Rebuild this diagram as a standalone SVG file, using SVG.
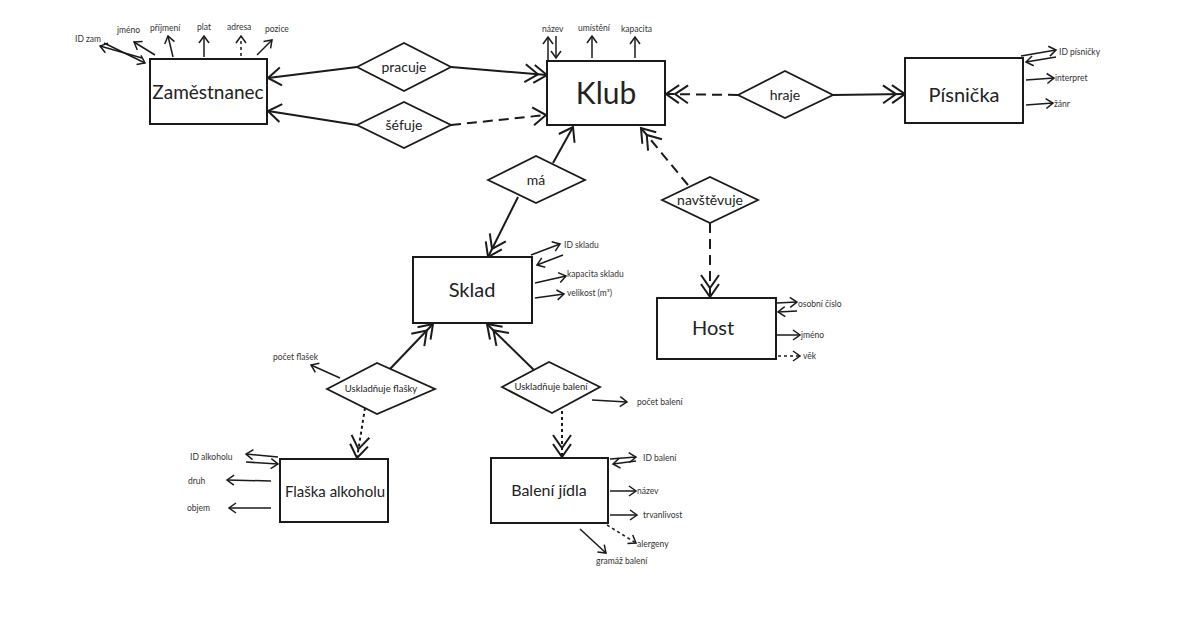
<svg xmlns="http://www.w3.org/2000/svg" width="1200" height="642" viewBox="0 0 1200 642">
  <defs>
    <style>
      .ent { fill: #fff; stroke: #1a1a1a; stroke-width: 2; }
      .rel { fill: #fff; stroke: #1a1a1a; stroke-width: 1.8; }
      .ln { fill: none; stroke: #1a1a1a; stroke-width: 2; }
      .dash { stroke-dasharray: 10 6; }
      .dot { stroke-dasharray: 3 3; }
      .at { fill: none; stroke: #1a1a1a; stroke-width: 1.5; }
      .et { font-family: Lato, "Liberation Sans", sans-serif; fill: #222; text-anchor: middle; }
      .rt { font-family: Lato, "Liberation Sans", sans-serif; fill: #222; text-anchor: middle; font-size: 14px; }
      .rs { font-size: 9.5px; }
      .lbl { font-family: Lato, "Liberation Sans", sans-serif; fill: #333; font-size: 8.5px; }
    </style>
    <marker id="one" markerUnits="userSpaceOnUse" viewBox="-20 -12 24 24" refX="0" refY="0" markerWidth="24" markerHeight="24" orient="auto" overflow="visible">
      <path d="M -13 -9 L 0 0 L -13 9" fill="none" stroke="#1a1a1a" stroke-width="2"/>
    </marker>
    <marker id="many" markerUnits="userSpaceOnUse" viewBox="-30 -12 34 24" refX="0" refY="0" markerWidth="34" markerHeight="24" orient="auto" overflow="visible">
      <path d="M -13 -9 L 0 0 L -13 9 M -22 -9 L -9 0 L -22 9" fill="none" stroke="#1a1a1a" stroke-width="2"/>
    </marker>
    <marker id="sm" markerUnits="userSpaceOnUse" viewBox="-10 -8 12 16" refX="0" refY="0" markerWidth="12" markerHeight="16" orient="auto" overflow="visible">
      <path d="M -7 -5 L 0 0 L -7 5" fill="none" stroke="#1a1a1a" stroke-width="1.5"/>
    </marker>
  </defs>

  <rect width="1200" height="642" fill="#fff"/>

  <!-- relationship connectors -->
  <g id="connectors">
    <line class="ln" x1="357" y1="67" x2="268" y2="78" marker-end="url(#one)"/>
    <line class="ln" x1="451" y1="67" x2="547" y2="75" marker-end="url(#many)"/>
    <line class="ln" x1="357" y1="125" x2="268" y2="111" marker-end="url(#one)"/>
    <line class="ln dash" x1="451" y1="125" x2="546" y2="115" marker-end="url(#one)"/>
    <line class="ln dash" x1="738" y1="95" x2="666" y2="94" marker-end="url(#many)"/>
    <line class="ln" x1="833" y1="95" x2="905" y2="94" marker-end="url(#many)"/>
    <line class="ln" x1="553" y1="163" x2="573" y2="127" marker-end="url(#one)"/>
    <line class="ln" x1="518" y1="197" x2="488" y2="257" marker-end="url(#many)"/>
    <line class="ln dash" x1="688" y1="185" x2="641" y2="128" marker-end="url(#many)"/>
    <line class="ln dash" x1="710" y1="223" x2="710" y2="297" marker-end="url(#many)"/>
    <line class="ln" x1="390" y1="369" x2="433" y2="324" marker-end="url(#many)"/>
    <line class="ln" x1="537" y1="373" x2="487" y2="324" marker-end="url(#many)"/>
    <line class="ln dot" x1="365" y1="408" x2="357" y2="458" marker-end="url(#many)"/>
    <line class="ln dot" x1="562" y1="411" x2="562" y2="457" marker-end="url(#many)"/>
  </g>

  <!-- Zaměstnanec -->
  <g id="zamestnanec">
    <rect class="ent" x="150" y="59" width="117" height="65"/>
    <text class="et" x="208" y="99" style="font-size:19px">Zaměstnanec</text>
    <line class="at" x1="142" y1="58" x2="100" y2="46" marker-end="url(#sm)"/>
    <line class="at" x1="104" y1="43" x2="145" y2="63" marker-end="url(#sm)"/>
    <text class="lbl" x="75" y="42">ID zam</text>
    <line class="at" x1="155" y1="55" x2="134" y2="42" marker-end="url(#sm)"/>
    <text class="lbl" x="117" y="33">jméno</text>
    <line class="at" x1="173" y1="57" x2="168" y2="36" marker-end="url(#sm)"/>
    <text class="lbl" x="150" y="31">příjmení</text>
    <line class="at" x1="204" y1="57" x2="204" y2="36" marker-end="url(#sm)"/>
    <text class="lbl" x="197" y="30">plat</text>
    <line class="at dot" x1="241" y1="56" x2="241" y2="36" marker-end="url(#sm)"/>
    <text class="lbl" x="227" y="30">adresa</text>
    <line class="at" x1="257" y1="55" x2="272" y2="40" marker-end="url(#sm)"/>
    <text class="lbl" x="265" y="32">pozice</text>
  </g>

  <!-- pracuje -->
  <g id="pracuje">
    <polygon class="rel" points="357,67 404,43 451,67 404,91"/>
    <text class="rt" x="404" y="72">pracuje</text>
  </g>

  <!-- šéfuje -->
  <g id="sefuje">
    <polygon class="rel" points="357,125 404,102 451,125 404,148"/>
    <text class="rt" x="404" y="130">šéfuje</text>
  </g>

  <!-- Klub -->
  <g id="klub">
    <rect class="ent" x="547" y="61" width="118" height="64"/>
    <text class="et" x="606" y="104" style="font-size:30px">Klub</text>
    <line class="at" x1="548" y1="60" x2="548" y2="37" marker-end="url(#sm)"/>
    <line class="at" x1="556" y1="36" x2="556" y2="58" marker-end="url(#sm)"/>
    <text class="lbl" x="542" y="32">název</text>
    <line class="at" x1="592" y1="58" x2="592" y2="36" marker-end="url(#sm)"/>
    <text class="lbl" x="578" y="31">umístění</text>
    <line class="at" x1="635" y1="58" x2="635" y2="37" marker-end="url(#sm)"/>
    <text class="lbl" x="621" y="32">kapacita</text>
  </g>

  <!-- hraje -->
  <g id="hraje">
    <polygon class="rel" points="738,95 785,71 833,95 785,118"/>
    <text class="rt" x="785" y="100">hraje</text>
  </g>

  <!-- Písnička -->
  <g id="pisnicka">
    <rect class="ent" x="905" y="58" width="118" height="65"/>
    <text class="et" x="964" y="102" style="font-size:20px">Písnička</text>
    <line class="at" x1="1021" y1="56" x2="1056" y2="50" marker-end="url(#sm)"/>
    <line class="at" x1="1056" y1="57" x2="1026" y2="62" marker-end="url(#sm)"/>
    <text class="lbl" x="1059" y="55">ID písničky</text>
    <line class="at" x1="1026" y1="80" x2="1054" y2="78" marker-end="url(#sm)"/>
    <text class="lbl" x="1055" y="81">interpret</text>
    <line class="at" x1="1026" y1="105" x2="1053" y2="103" marker-end="url(#sm)"/>
    <text class="lbl" x="1054" y="107">žánr</text>
  </g>

  <!-- má -->
  <g id="ma">
    <polygon class="rel" points="488,180 536,156 585,180 536,203"/>
    <text class="rt" x="536" y="185">má</text>
  </g>

  <!-- navštěvuje -->
  <g id="navstevuje">
    <polygon class="rel" points="662,200 710,177 758,200 710,223"/>
    <text class="rt" x="710" y="205">navštěvuje</text>
  </g>

  <!-- Sklad -->
  <g id="sklad">
    <rect class="ent" x="413" y="257" width="119" height="66"/>
    <text class="et" x="472" y="297" style="font-size:20px">Sklad</text>
    <line class="at" x1="531" y1="255" x2="560" y2="244" marker-end="url(#sm)"/>
    <line class="at" x1="563" y1="255" x2="537" y2="265" marker-end="url(#sm)"/>
    <text class="lbl" x="564" y="248">ID skladu</text>
    <line class="at" x1="535" y1="283" x2="566" y2="276" marker-end="url(#sm)"/>
    <text class="lbl" x="567" y="277">kapacita skladu</text>
    <line class="at" x1="535" y1="298" x2="564" y2="294" marker-end="url(#sm)"/>
    <text class="lbl" x="567" y="296">velikost (m³)</text>
  </g>

  <!-- Host -->
  <g id="host">
    <rect class="ent" x="657" y="298" width="119" height="61"/>
    <text class="et" x="713" y="335" style="font-size:20px">Host</text>
    <line class="at" x1="777" y1="303" x2="797" y2="302" marker-end="url(#sm)"/>
    <line class="at" x1="797" y1="311" x2="778" y2="312" marker-end="url(#sm)"/>
    <text class="lbl" x="798" y="307">osobní číslo</text>
    <line class="at" x1="777" y1="335" x2="800" y2="335" marker-end="url(#sm)"/>
    <text class="lbl" x="801" y="338">jméno</text>
    <line class="at dot" x1="778" y1="356" x2="800" y2="356" marker-end="url(#sm)"/>
    <text class="lbl" x="803" y="359">věk</text>
  </g>

  <!-- Uskladňuje flašky -->
  <g id="uskladnuje-flasky">
    <polygon class="rel" points="327,389 377,363 435,389 377,414"/>
    <text class="rt rs" x="381" y="392">Uskladňuje flašky</text>
    <line class="at" x1="340" y1="378" x2="311" y2="365" marker-end="url(#sm)"/>
    <text class="lbl" x="273" y="360">počet flašek</text>
  </g>

  <!-- Uskladňuje balení -->
  <g id="uskladnuje-baleni">
    <polygon class="rel" points="502,387 549,362 600,387 552,413"/>
    <text class="rt rs" x="551" y="390">Uskladňuje balení</text>
    <line class="at" x1="592" y1="400" x2="627" y2="402" marker-end="url(#sm)"/>
    <text class="lbl" x="637" y="405">počet balení</text>
  </g>

  <!-- Flaška alkoholu -->
  <g id="flaska-alkoholu">
    <rect class="ent" x="280" y="459" width="108" height="63"/>
    <text class="et" x="335" y="497" style="font-size:15px">Flaška alkoholu</text>
    <line class="at" x1="278" y1="457" x2="246" y2="454" marker-end="url(#sm)"/>
    <line class="at" x1="246" y1="462" x2="278" y2="464" marker-end="url(#sm)"/>
    <text class="lbl" x="190" y="460">ID alkoholu</text>
    <line class="at" x1="271" y1="481" x2="227" y2="480" marker-end="url(#sm)"/>
    <text class="lbl" x="188" y="484">druh</text>
    <line class="at" x1="271" y1="508" x2="229" y2="508" marker-end="url(#sm)"/>
    <text class="lbl" x="187" y="511">objem</text>
  </g>

  <!-- Balení jídla -->
  <g id="baleni-jidla">
    <rect class="ent" x="491" y="458" width="117" height="65"/>
    <text class="et" x="549" y="496" style="font-size:16px">Balení jídla</text>
    <line class="at" x1="610" y1="459" x2="636" y2="457" marker-end="url(#sm)"/>
    <line class="at" x1="636" y1="461" x2="613" y2="464" marker-end="url(#sm)"/>
    <text class="lbl" x="643" y="461">ID balení</text>
    <line class="at" x1="610" y1="491" x2="636" y2="491" marker-end="url(#sm)"/>
    <text class="lbl" x="637" y="494">název</text>
    <line class="at" x1="610" y1="515" x2="637" y2="515" marker-end="url(#sm)"/>
    <text class="lbl" x="643" y="518">trvanlivost</text>
    <line class="at dot" x1="607" y1="525" x2="636" y2="543" marker-end="url(#sm)"/>
    <text class="lbl" x="637" y="547">alergeny</text>
    <line class="at" x1="580" y1="529" x2="606" y2="553" marker-end="url(#sm)"/>
    <text class="lbl" x="596" y="564">gramáž balení</text>
  </g>
</svg>
